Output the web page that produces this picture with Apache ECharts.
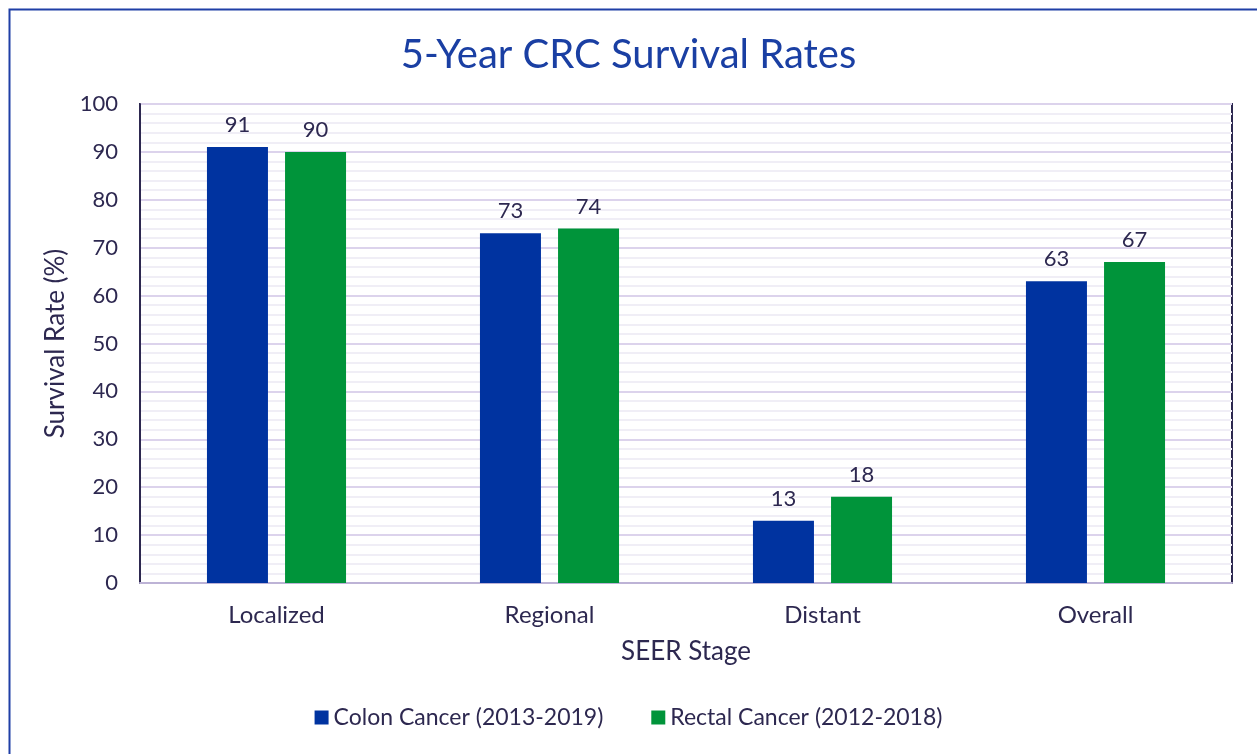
<!DOCTYPE html>
<html><head><meta charset="utf-8">
<script src="https://cdn.jsdelivr.net/npm/echarts@6/dist/echarts.min.js"></script>
<style>html,body{margin:0;padding:0;background:#fff}#c{width:1257px;height:754px}</style>
</head><body><div id="c"></div>
<script>
const categories = ['Localized', 'Regional', 'Distant', 'Overall'];
const colonValues = [91, 73, 13, 63];
const rectalValues = [90, 74, 18, 67];
const seriesNames = ['Colon Cancer (2013-2019)', 'Rectal Cancer (2012-2018)'];

const FONT = 'Lato, "Open Sans", sans-serif';
const TXT = '#2d2850';
const chart = echarts.init(document.getElementById('c'));
chart.setOption({
  animation: false,
  textStyle: { fontFamily: FONT, color: TXT },
  title: {
    text: '5-Year CRC Survival Rates', left: 'center', top: 30,
    textStyle: { fontFamily: FONT, fontSize: 40, fontWeight: 'normal', color: '#1a3fa3' }
  },
  graphic: [{
    type: 'rect', left: 7, top: 7, z: -1,
    shape: { width: 1260, height: 760 },
    style: { fill: 'none', stroke: '#1f3fa6', lineWidth: 2 }
  }],
  legend: {
    bottom: 20, left: 'center', itemWidth: 14, itemHeight: 14, itemGap: 48,
    icon: 'rect',
    textStyle: { fontFamily: FONT, fontSize: 23, color: TXT }
  },
  grid: { left: 140, right: 25, top: 104, bottom: 171, show: true, borderColor: '#2d2850', borderWidth: 2 },
  xAxis: {
    type: 'category', data: categories,
    name: 'SEER Stage', nameLocation: 'middle', nameGap: 56,
    nameTextStyle: { fontFamily: FONT, fontSize: 26, color: TXT },
    axisLine: { lineStyle: { color: '#bdb3d6', width: 2 } },
    axisTick: { show: false },
    axisLabel: { fontFamily: FONT, fontSize: 24, color: TXT, margin: 20 }
  },
  yAxis: {
    type: 'value', min: 0, max: 100, interval: 10,
    name: 'Survival Rate (%)', nameLocation: 'middle', nameGap: 70,
    nameTextStyle: { fontFamily: FONT, fontSize: 26, color: TXT },
    axisLine: { show: true, lineStyle: { color: '#2d2850', width: 2 } },
    axisTick: { show: false },
    axisLabel: { fontFamily: FONT, fontSize: 22, color: TXT, margin: 22 },
    splitLine: { lineStyle: { color: '#dcd3ec', width: 2 } },
    minorTick: { show: false, splitNumber: 5 },
    minorSplitLine: { show: true, lineStyle: { color: '#f0eef6', width: 2 } }
  },
  series: [
    { name: seriesNames[0], type: 'bar', data: colonValues, barWidth: 61, barGap: '28%',
      itemStyle: { color: '#0033a0' },
      label: { show: true, position: 'top', distance: 11, fontFamily: FONT, fontSize: 22, color: TXT } },
    { name: seriesNames[1], type: 'bar', data: rectalValues, barWidth: 61,
      itemStyle: { color: '#00943a' },
      label: { show: true, position: 'top', distance: 11, fontFamily: FONT, fontSize: 22, color: TXT } }
  ]
});
</script></body></html>
